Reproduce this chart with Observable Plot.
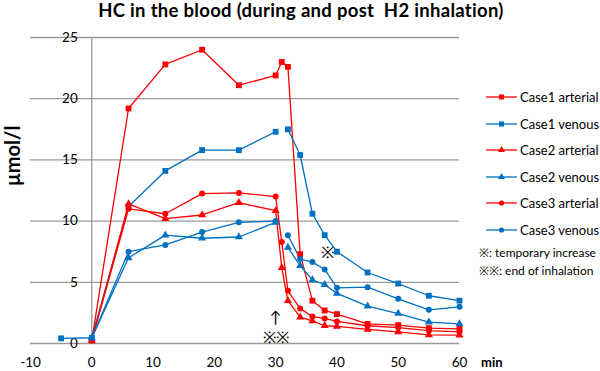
<!DOCTYPE html>
<html><head><meta charset="utf-8">
<script src="https://cdn.jsdelivr.net/npm/d3@7"></script>
<script src="https://cdn.jsdelivr.net/npm/@observablehq/plot@0.6"></script>
<style>
body{margin:0;background:#fff;}
#wrap{position:relative;width:600px;height:371px;overflow:hidden;background:#fff;font-family:Lato,"Open Sans",sans-serif;color:#000;}
#wrap svg.plot{position:absolute;left:0;top:0;}
#title{position:absolute;left:0;width:602px;top:-1px;text-align:center;font-weight:bold;font-size:18.5px;letter-spacing:0.3px;white-space:pre;line-height:22px;}
#ylab{position:absolute;left:12px;top:156px;transform:translate(-50%,-50%) rotate(-90deg);font-weight:bold;font-size:20px;white-space:nowrap;}
#legend{position:absolute;left:486px;top:84px;font-size:13px;}
.li{display:flex;align-items:center;height:26.5px;}
.li svg{margin-right:2px;}
.note{position:absolute;left:479px;font-size:12px;white-space:nowrap;}
#minlab{position:absolute;left:481px;top:355px;font-weight:bold;font-size:13px;line-height:15px;}
</style></head>
<body><div id="wrap">
<div id="title">HC in the blood (during and post  H2 inhalation)</div>
<div id="ylab">µmol/l</div>
<div id="legend"></div>
<div class="note" style="top:244px">※: temporary increase</div>
<div class="note" style="top:262px">※※: end of inhalation</div>
<div id="minlab">min</div>
</div>
<script>
// ---- data ----
const seriesNames = ["Case1 arterial","Case1 venous","Case2 arterial","Case2 venous","Case3 arterial","Case3 venous"];
const tArterial = [0, 6, 12, 18, 24, 30, 31, 32, 34, 36, 38, 40, 45, 50, 55, 60];
const tVenous = [0, 6, 12, 18, 24, 30, 32, 34, 36, 38, 40, 45, 50, 55, 60];
const tCase1Venous = [-5, 0, 6, 12, 18, 24, 30, 32, 34, 36, 38, 40, 45, 50, 55, 60];
const case1Arterial = [0.25, 19.2, 22.8, 24.0, 21.1, 21.9, 23.0, 22.6, 7.3, 3.5, 2.7, 2.4, 1.6, 1.5, 1.25, 1.2];
const case1Venous = [0.42, 0.47, 11.2, 14.1, 15.8, 15.8, 17.3, 17.5, 15.4, 10.6, 8.85, 7.5, 5.8, 4.9, 3.9, 3.5];
const case2Arterial = [0.25, 11.4, 10.2, 10.5, 11.5, 10.85, 6.2, 3.5, 2.15, 1.85, 1.45, 1.4, 1.15, 0.95, 0.7, 0.68];
const case2Venous = [0.45, 7.0, 8.85, 8.6, 8.7, 9.9, 7.85, 6.35, 5.2, 4.8, 4.1, 3.05, 2.45, 1.75, 1.6];
const case3Arterial = [0.25, 11.0, 10.6, 12.25, 12.3, 12.0, 8.3, 4.3, 2.85, 2.2, 2.05, 1.8, 1.45, 1.3, 1.05, 0.95];
const case3Venous = [0.45, 7.5, 8.05, 9.1, 9.9, 10.0, 8.85, 6.9, 6.65, 6.05, 4.55, 4.6, 3.65, 2.75, 3.0];
const xTicks = [-10, 0, 10, 20, 30, 40, 50, 60];
const yTicks = [0, 5, 10, 15, 20, 25];
const notes = [
  {x: 30, y: 2.1, text: "↑"},
  {x: 30, y: 0.5, text: "※※"},
  {x: 38.4, y: 7.4, text: "※"}
];

// ---- styles ----
const RED = "#ff0000", BLUE = "#0070c0";
const style = {
  "Case1 arterial": {color: RED, shape: "square"},
  "Case1 venous": {color: BLUE, shape: "square"},
  "Case2 arterial": {color: RED, shape: "triangle"},
  "Case2 venous": {color: BLUE, shape: "triangle"},
  "Case3 arterial": {color: RED, shape: "circle"},
  "Case3 venous": {color: BLUE, shape: "circle"}
};
const seriesData = [
  [tArterial, case1Arterial], [tCase1Venous, case1Venous],
  [tArterial, case2Arterial], [tVenous, case2Venous],
  [tArterial, case3Arterial], [tVenous, case3Venous]
];
const rows = [];
seriesNames.forEach((name, i) => {
  const [ts, vs] = seriesData[i];
  const venous = name.includes("venous");
  ts.forEach((t, j) => rows.push({
    series: name, t, v: vs[j],
    key: name + (venous && t > 30 ? "-b" : "-a"),
    color: style[name].color, shape: style[name].shape
  }));
});
const rFor = {square: 3.3, triangle: 3.0, circle: 3.0};

const marks = [
  Plot.ruleY(yTicks, {stroke: "#9a9a9a", strokeWidth: 1.3}),
  Plot.ruleX([0], {y1: 0, y2: 25, stroke: "#9a9a9a", strokeWidth: 1.3}),
  Plot.text(yTicks, {x: d => 0, y: d => d, text: d => String(d), textAnchor: "end", dx: -14, fontSize: 13.5}),
  Plot.axisX(xTicks, {tickSize: 0, tickPadding: 14, fontSize: 13.5, label: null, tickFormat: d => String(d)}),
  Plot.line(rows, {x: "t", y: "v", z: "key", stroke: "color", strokeWidth: 1.3}),
];
["square", "triangle", "circle"].forEach(s => {
  marks.push(Plot.dot(rows.filter(d => d.shape === s), {x: "t", y: "v", fill: "color", stroke: "none", symbol: s, r: rFor[s]}));
});
marks.push(Plot.text(notes, {x: "x", y: "y", text: "text", fontSize: 16, fill: "#000"}));

const chart = Plot.plot({
  width: 600, height: 371,
  marginLeft: 30, marginRight: 141, marginTop: 37, marginBottom: 28,
  x: {domain: [-10, 60], axis: null},
  y: {domain: [0, 25], axis: null},
  style: {fontFamily: "Lato, 'Open Sans', sans-serif", background: "transparent", color: "#000"},
  marks
});
chart.classList.add("plot");
document.getElementById("wrap").prepend(chart);

// legend
const legend = d3.select("#legend");
seriesNames.forEach(name => {
  const st = style[name];
  const item = legend.append("div").attr("class", "li");
  const svg = item.append("svg").attr("width", 32).attr("height", 10);
  svg.append("line").attr("x1", 0).attr("x2", 31).attr("y1", 5).attr("y2", 5).attr("stroke", st.color).attr("stroke-width", 1.3);
  const sym = {square: d3.symbolSquare, triangle: d3.symbolTriangle, circle: d3.symbolCircle}[st.shape];
  svg.append("path").attr("transform", "translate(15.5,5)").attr("d", d3.symbol(sym, Math.PI * rFor[st.shape] ** 2 * 0.75)()).attr("fill", st.color);
  item.append("span").text(name);
});
</script>
</body></html>
